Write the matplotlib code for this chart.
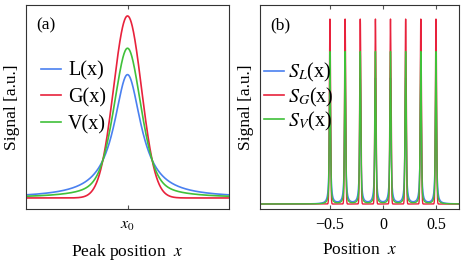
import numpy as np
import matplotlib.pyplot as plt

plt.rcParams['font.family'] = ['Liberation Serif', 'DejaVu Serif']
plt.rcParams['mathtext.fontset'] = 'stix'

# panel (a): single peak, same FWHM, area normalised
x0 = 0.0
fwhm_a = 1.0
eta = 0.55          # lorentzian fraction of the pseudo-voigt
xlim_a = (-3.1, 3.1)
ylim_a = (-0.057, 0.996)

# panel (b): comb of narrow peaks
centers_b = [-0.5, -0.357, -0.214, -0.071, 0.071, 0.214, 0.357, 0.5]
fwhm_b = 0.013
xlim_b = (-1.16, 0.717)
ylim_b = (-0.027, 1.076)
xticks_b = [-0.5, 0, 0.5]
xticklabels_b = ['\u22120.5', '0', '0.5']

col_L = '#4a80f0'
col_G = '#e8223c'
col_V = '#40c03a'


def lor(x, c, w):
    return (w / 2) / np.pi / ((x - c)**2 + (w / 2)**2)


def gau(x, c, w):
    s = w / (2 * np.sqrt(2 * np.log(2)))
    return np.exp(-(x - c)**2 / (2 * s**2)) / (s * np.sqrt(2 * np.pi))


def voi(x, c, w):
    return eta * lor(x, c, w) + (1 - eta) * gau(x, c, w)


fig = plt.figure(figsize=(4.67, 2.67), dpi=100)
axa = fig.add_axes([0.0557, 0.2172, 0.4347, 0.7641])
axb = fig.add_axes([0.5567, 0.2172, 0.4261, 0.7641])

xa = np.linspace(xlim_a[0], xlim_a[1], 1000)
axa.plot(xa, lor(xa, x0, fwhm_a), color=col_L, lw=1.2, label='L(x)')
axa.plot(xa, gau(xa, x0, fwhm_a), color=col_G, lw=1.2, label='G(x)')
axa.plot(xa, voi(xa, x0, fwhm_a), color=col_V, lw=1.2, label='V(x)')
axa.set_xlim(xlim_a)
axa.set_ylim(ylim_a)
axa.set_xticks([x0])
axa.set_xticklabels(['$x_0$'])
axa.set_yticks([])
axa.set_xlabel('Peak position  $x$', fontsize=12.5, labelpad=6)
axa.set_ylabel('Signal [a.u.]', fontsize=12.5, labelpad=4)
axa.text(0.05, 0.94, '(a)', transform=axa.transAxes, fontsize=12.5, va='top')
axa.legend(loc='center left', bbox_to_anchor=(0.034, 0.545), frameon=False,
           fontsize=14.5, handlelength=1.0, handletextpad=0.35,
           labelspacing=0.37, borderaxespad=0.0)

xb = np.linspace(xlim_b[0], xlim_b[1], 8000)
norm = gau(0, 0, fwhm_b)
SL = sum(lor(xb, c, fwhm_b) for c in centers_b) / norm
SG = sum(gau(xb, c, fwhm_b) for c in centers_b) / norm
SV = sum(voi(xb, c, fwhm_b) for c in centers_b) / norm
axb.plot(xb, SL, color=col_L, lw=1.0, label='$S_L$(x)')
axb.plot(xb, SG, color=col_G, lw=1.0, label='$S_G$(x)')
axb.plot(xb, SV, color=col_V, lw=1.0, label='$S_V$(x)')
axb.set_xlim(xlim_b)
axb.set_ylim(ylim_b)
axb.set_xticks(xticks_b)
axb.set_xticklabels(xticklabels_b)
axb.set_yticks([])
axb.set_xlabel('Position  $x$', fontsize=12.5, labelpad=6)
axb.set_ylabel('Signal [a.u.]', fontsize=12.5, labelpad=4)
axb.text(0.05, 0.94, '(b)', transform=axb.transAxes, fontsize=12.5, va='top')
leg = axb.legend(loc='center left', bbox_to_anchor=(-0.02, 0.549), frameon=False,
                 fontsize=14.5, handlelength=1.0, handletextpad=0.2,
                 labelspacing=0.05, borderaxespad=0.0)
for h in leg.get_lines():
    h.set_linewidth(1.2)

for ax in (axa, axb):
    ax.tick_params(axis='x', direction='in', top=True, length=3, width=0.8,
                   labelsize=11.5, pad=6, color='#555555')
    for sp in ax.spines.values():
        sp.set_color('#333333')
        sp.set_linewidth(0.8)

fig.savefig('out.png', dpi=100)
